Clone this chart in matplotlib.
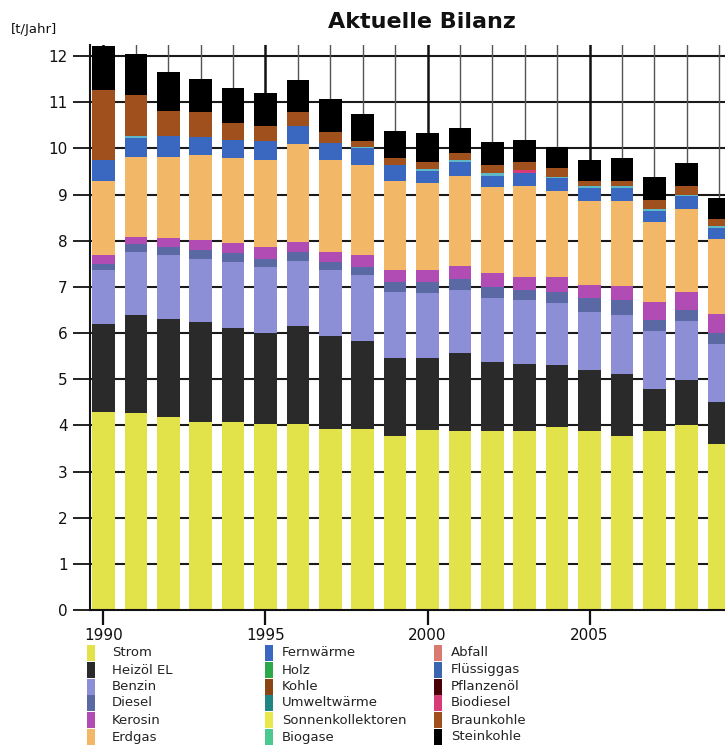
import matplotlib
matplotlib.use("Agg")
import matplotlib.pyplot as plt
import numpy as np
from matplotlib.patches import Rectangle

years = list(range(1990, 2010))

strom = [4.30, 4.26, 4.19, 4.07, 4.07, 4.04, 4.02, 3.93, 3.93, 3.76,
         3.91, 3.88, 3.88, 3.88, 3.96, 3.88, 3.76, 3.88, 4.00, 3.59]
heizoel = [1.89, 2.12, 2.12, 2.17, 2.05, 1.97, 2.14, 2.00, 1.89, 1.69,
           1.54, 1.69, 1.50, 1.46, 1.35, 1.31, 1.36, 0.91, 0.98, 0.91]
benzin = [1.17, 1.38, 1.38, 1.37, 1.42, 1.42, 1.41, 1.43, 1.43, 1.44,
          1.41, 1.36, 1.37, 1.37, 1.33, 1.27, 1.27, 1.26, 1.27, 1.26]
diesel = [0.14, 0.17, 0.17, 0.18, 0.20, 0.18, 0.19, 0.18, 0.18, 0.22,
          0.25, 0.25, 0.25, 0.22, 0.25, 0.29, 0.32, 0.24, 0.25, 0.24]
kerosin = [0.18, 0.16, 0.19, 0.23, 0.20, 0.25, 0.22, 0.22, 0.25, 0.25,
           0.25, 0.27, 0.29, 0.28, 0.32, 0.30, 0.31, 0.39, 0.38, 0.41]
erdgas = [1.61, 1.73, 1.76, 1.84, 1.85, 1.89, 2.11, 1.98, 1.96, 1.93,
          1.90, 1.96, 1.87, 1.97, 1.86, 1.81, 1.84, 1.73, 1.80, 1.63]
fernwaerme = [0.46, 0.40, 0.45, 0.39, 0.40, 0.41, 0.39, 0.38, 0.36, 0.35,
              0.24, 0.30, 0.24, 0.28, 0.28, 0.28, 0.29, 0.24, 0.28, 0.24]
umweltwaerme = [0.00, 0.04, 0.00, 0.00, 0.00, 0.00, 0.00, 0.00, 0.03, 0.00,
                0.05, 0.03, 0.06, 0.00, 0.04, 0.04, 0.04, 0.03, 0.04, 0.04]
biodiesel = [0.00, 0.00, 0.00, 0.00, 0.00, 0.00, 0.00, 0.00, 0.00, 0.00,
             0.00, 0.00, 0.00, 0.08, 0.00, 0.00, 0.00, 0.00, 0.00, 0.00]
braunkohle = [1.51, 0.90, 0.56, 0.54, 0.37, 0.32, 0.31, 0.24, 0.13, 0.15,
              0.15, 0.15, 0.18, 0.17, 0.18, 0.12, 0.10, 0.20, 0.18, 0.14]
steinkohle = [0.95, 0.88, 0.84, 0.72, 0.74, 0.71, 0.69, 0.71, 0.58, 0.58,
              0.64, 0.55, 0.50, 0.47, 0.47, 0.45, 0.50, 0.50, 0.50, 0.47]

legend_labels = ["Strom", "Heizöl EL", "Benzin", "Diesel", "Kerosin", "Erdgas",
                 "Fernwärme", "Holz", "Kohle", "Umweltwärme", "Sonnenkollektoren", "Biogase",
                 "Abfall", "Flüssiggas", "Pflanzenöl", "Biodiesel", "Braunkohle", "Steinkohle"]
legend_colors = ["#e2e24a", "#2a2a2a", "#8d8fd6", "#5a69a3", "#b04cb4", "#f2b868",
                 "#3a68c0", "#2aa84a", "#8b4513", "#1f8585", "#e8e84a", "#4cc890",
                 "#d87a70", "#3a66b0", "#4a0008", "#d83c78", "#a0501c", "#000000"]

stack = [
    (strom, "#e2e24a"),
    (heizoel, "#2a2a2a"),
    (benzin, "#8d8fd6"),
    (diesel, "#5a69a3"),
    (kerosin, "#b04cb4"),
    (erdgas, "#f2b868"),
    (fernwaerme, "#3a68c0"),
    (umweltwaerme, "#5fb8c8"),
    (biodiesel, "#d83c78"),
    (braunkohle, "#a0501c"),
    (steinkohle, "#000000"),
]

W, H = 725, 747
fig = plt.figure(figsize=(W / 100, H / 100), dpi=100)
ax = fig.add_axes([90 / W, 137 / H, 635 / W, (610 - 45) / H])
ax.set_xlim(1990 - 0.415, 2009.18)
ax.set_ylim(0, 12.24)

for y in range(1, 13):
    ax.axhline(y, color="#1a1a1a", lw=1.5, zorder=1)
for yr in years:
    if yr % 5 == 0:
        ax.axvline(yr, color="#111111", lw=1.8, zorder=1)
    else:
        ax.axvline(yr, color="#555555", lw=1.0, zorder=1)

bottom = np.zeros(len(years))
for vals, col in stack:
    v = np.array(vals)
    ax.bar(years, v, 0.7, bottom=bottom, color=col, linewidth=0, zorder=2)
    bottom += v

for s in ["top", "right"]:
    ax.spines[s].set_visible(False)
for s in ["left", "bottom"]:
    ax.spines[s].set_linewidth(1.5)
    ax.spines[s].set_color("#111111")
    ax.spines[s].set_zorder(3)

ax.set_xticks([1990, 1995, 2000, 2005])
ax.set_xticklabels(["1990", "1995", "2000", "2005"])
ax.set_yticks(range(0, 13))
ax.tick_params(axis="x", length=11, width=1.6, direction="out", pad=2,
               labelsize=11, colors="#111111")
ax.tick_params(axis="y", length=12, width=1.3, direction="out", pad=4,
               labelsize=11, colors="#111111")

fig.text(422 / W, 1 - 22 / H, "Aktuelle Bilanz", ha="center", va="center",
         fontsize=16, fontweight="bold", color="#111111")
fig.text(11 / W, 1 - 29 / H, "[t/Jahr]", ha="left", va="center",
         fontsize=9.5, color="#111111")

col_patch_x = [87, 265, 434]
col_text_x = [112, 282, 451]
row_y = [653, 670, 687, 703, 720, 737]
for i, (lab, col) in enumerate(zip(legend_labels, legend_colors)):
    c, r = divmod(i, 6)
    yc = row_y[r]
    fig.add_artist(Rectangle((col_patch_x[c] / W, 1 - (yc + 8) / H), 8 / W, 16 / H,
                             transform=fig.transFigure, facecolor=col, edgecolor="none"))
    fig.text(col_text_x[c] / W, 1 - yc / H, lab, ha="left", va="center",
             fontsize=9.5, color="#222222")

fig.savefig("out.png", dpi=100)
